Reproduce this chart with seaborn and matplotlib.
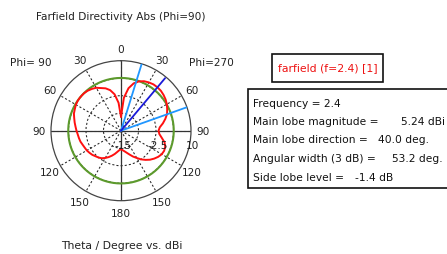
import numpy as np
import pandas as pd
import matplotlib
matplotlib.use("Agg")
import matplotlib.pyplot as plt
import matplotlib.transforms as mtransforms
from matplotlib.patches import Rectangle
import seaborn as sns

# ---------------- data ----------------
theta_deg = [0, 5, 10, 15, 20, 25, 30, 35, 40, 45, 50, 55, 60, 65, 70, 75, 80, 85, 90,
             95, 100, 105, 110, 115, 120, 125, 130, 135, 140, 145, 150, 155, 160, 165,
             170, 175, 180]
# Directivity (dBi) for Phi=270 (right half of the plot)
dir_phi270 = [-10.0, -3.2, 0.4, 2.5, 3.75, 4.5, 4.9, 5.2, 5.24, 5.15, 4.85, 4.45, 3.9,
              3.2, 2.5, 1.4, 0.2, -1.1, -1.6, -1.25, -0.2, 1.1, 1.8, 2.0, 1.8, 1.25,
              0.5, -0.35, -1.4, -2.5, -3.75, -4.8, -5.9, -6.8, -7.5, -8.0, -8.4]
# Directivity (dBi) for Phi=90 (left half of the plot)
dir_phi90 = [-10.0, -5.0, -1.8, 0.0, 1.1, 1.8, 2.7, 3.2, 3.6, 3.8, 3.84, 3.8, 3.6,
             3.2, 2.9, 2.3, 1.8, 1.3, 0.9, 0.5, 0.25, 0.0, -0.4, -0.7, -0.9, -1.25,
             -1.6, -2.1, -2.5, -3.0, -3.75, -4.6, -5.5, -6.4, -7.3, -8.0, -8.4]

main_lobe_magnitude = 5.24
main_lobe_direction = 40.0
beam_edges = [17.2, 70.4]          # 3 dB angular width limits (53.2 deg)
side_lobe_level = -1.4
r_min, r_max = -15.0, 10.0
ring_values = [-8.75, -2.5, 3.75]
radial_label_values = [-15.0, -2.5, 10.0]
radial_label_texts = ["-15", "-2.5", "10"]
theta_tick_angles = [0, 30, 60, 90, 120, 150, 180, 210, 240, 270, 300, 330]
theta_tick_labels = ["0", "30", "60", "90", "120", "150", "180",
                     "150", "120", "90", "60", "30"]

title_text = "Farfield Directivity Abs (Phi=90)"
xlabel_text = "Theta / Degree vs. dBi"
legend_text = "farfield (f=2.4) [1]"
info_labels = ["Frequency = 2.4", "Main lobe magnitude =", "Main lobe direction =",
               "Angular width (3 dB) =", "Side lobe level ="]
info_values = ["", "5.24 dBi", "40.0 deg.", "53.2 deg.", "-1.4 dB"]

# ---------------- style ----------------
sns.set_theme(style="white")
plt.rcParams["font.family"] = ["DejaVu Sans"]

W, H = 447, 255
fig = plt.figure(figsize=(W / 100, H / 100), dpi=100)
fig.patch.set_facecolor("white")

def fx(x):
    return x / W

def fy(y):
    return 1 - y / H

cx, cy, R = 121, 131.7, 70
ax = fig.add_axes([fx(cx - R), fy(cy + R), 2 * R / W, 2 * R / H], projection="polar")
ax.set_facecolor("white")
ax.set_theta_zero_location("N")
ax.set_theta_direction(-1)
ax.set_ylim(r_min, r_max)

# grid
ax.set_rgrids(ring_values, labels=[""] * len(ring_values))
ax.set_thetagrids(theta_tick_angles, labels=[""] * len(theta_tick_angles))
ax.grid(True, color="#222222", linestyle=(0, (2, 2)), linewidth=0.75)
ax.tick_params(axis="both", length=0)
ax.spines["polar"].set_color("#444444")
ax.spines["polar"].set_linewidth(0.9)

# main axes (solid)
for a in [0, 90, 180, 270]:
    ang = np.deg2rad(a)
    ax.plot([ang, ang], [r_min, r_max], color="#333333", lw=0.9, zorder=2)

# side lobe ring (green)
circ = np.linspace(0, 2 * np.pi, 361)
ax.plot(circ, np.full_like(circ, main_lobe_magnitude + side_lobe_level),
        color="#5c9a2c", lw=1.5, zorder=3)

# directivity curve
ang270 = np.deg2rad(theta_deg)
ang90 = np.deg2rad(360 - np.array(theta_deg))[::-1]
df = pd.DataFrame({
    "angle": np.concatenate([ang270, ang90]),
    "dbi": np.concatenate([dir_phi270, np.array(dir_phi90)[::-1]]),
})
sns.lineplot(data=df, x="angle", y="dbi", sort=False, estimator=None, ax=ax,
             color="#ff1010", lw=1.4, zorder=5)

# main lobe direction and 3 dB lines
for a in beam_edges:
    ax.plot([np.deg2rad(a)] * 2, [r_min, r_max], color="#1f96ff", lw=1.3, zorder=6)
ax.plot([np.deg2rad(main_lobe_direction)] * 2, [r_min, r_max - 0.5],
        color="#1a1ad8", lw=1.3, zorder=6)

ax.set_xlabel("")
ax.set_ylabel("")
ax.set_ylim(r_min, r_max)

# theta labels
label_r = r_max + (r_max - r_min) * 0.17
for a, t in zip(theta_tick_angles, theta_tick_labels):
    ax.text(np.deg2rad(a), label_r, t, ha="center", va="center", fontsize=7.6,
            color="#222222", clip_on=False)

# radial labels
off = mtransforms.offset_copy(ax.transData, fig=fig, x=1.5, y=-14.5, units="dots")
for v, t in zip(radial_label_values, radial_label_texts):
    ax.text(np.deg2rad(90), v, t, transform=off, ha="center", va="center",
            fontsize=7.6, color="#222222", clip_on=False, zorder=7)

# figure texts
fig.text(fx(121), fy(17), title_text, ha="center", va="center", fontsize=7.6, color="#222222")
fig.text(fx(122), fy(246), xlabel_text, ha="center", va="center", fontsize=7.8, color="#222222")
fig.text(fx(31), fy(63), "Phi= 90", ha="center", va="center", fontsize=7.6, color="#222222")
fig.text(fx(211), fy(63), "Phi=270", ha="center", va="center", fontsize=7.6, color="#222222")

# legend box
fig.patches.append(Rectangle((fx(271.7), fy(82.7)), (383.3 - 271.7) / W, (82.7 - 55) / H,
                             transform=fig.transFigure, facecolor="white",
                             edgecolor="#111111", lw=1.2))
fig.text(fx(327.5), fy(68.5), legend_text, ha="center", va="center", fontsize=7.8,
         color="#ee1111")

# info box
fig.patches.append(Rectangle((fx(248.5), fy(189)), (470 - 248.5) / W, (189 - 90) / H,
                             transform=fig.transFigure, facecolor="white",
                             edgecolor="#111111", lw=1.2))
baselines = [106.7, 125.0, 143.3, 162.3, 181.3]
value_x = [None, 401, 378.3, 391.7, 355]
for lab, val, yb, vx in zip(info_labels, info_values, baselines, value_x):
    fig.text(fx(252.7), fy(yb), lab, ha="left", va="baseline", fontsize=7.7, color="#111111")
    if val:
        fig.text(fx(vx), fy(yb), val, ha="left", va="baseline", fontsize=7.7, color="#111111")

fig.savefig("out.png", dpi=100, facecolor="white")
